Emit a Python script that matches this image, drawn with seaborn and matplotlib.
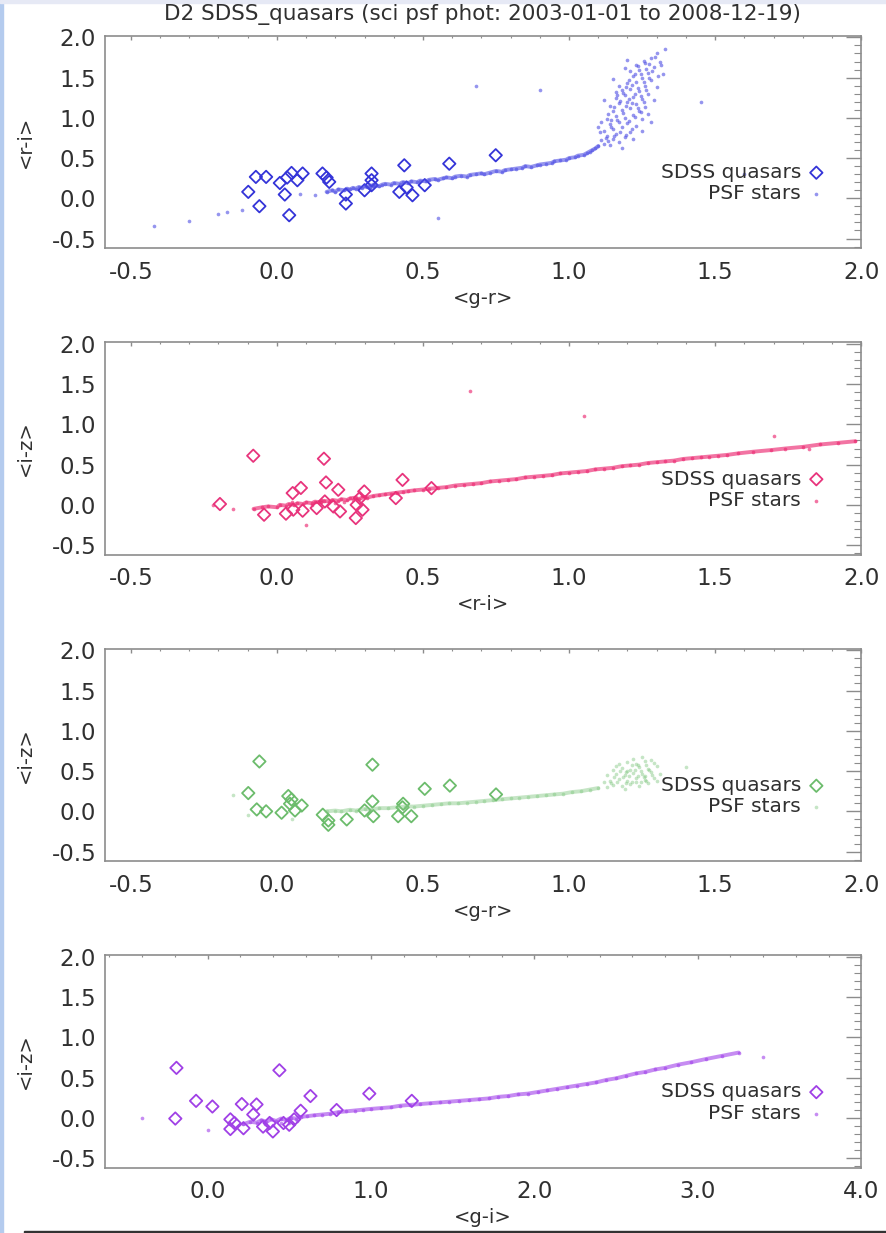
import pandas as pd
import seaborn as sns
import matplotlib.pyplot as plt
from matplotlib.ticker import MultipleLocator, FormatStrFormatter
from matplotlib.patches import Rectangle

# ---- data ----
title = 'D2 SDSS_quasars (sci psf phot: 2003-01-01 to 2008-12-19)'

# panel 1: <g-r> vs <r-i>
q1_x = [-0.098, -0.072, -0.037, -0.06, 0.010, 0.027, 0.042, 0.035, 0.05, 0.07, 0.088, 0.156, 0.17, 0.179,
        0.236, 0.236, 0.30, 0.324, 0.324, 0.324, 0.436, 0.419, 0.444, 0.464, 0.506, 0.59, 0.749]
q1_y = [0.08, 0.266, 0.266, -0.098, 0.19, 0.047, -0.21, 0.258, 0.315, 0.225, 0.308, 0.308, 0.258, 0.204,
        0.047, -0.065, 0.10, 0.308, 0.225, 0.163, 0.41, 0.08, 0.134, 0.038, 0.163, 0.43, 0.535]
s1_line_x = [0.17, 0.19, 0.20, 0.21, 0.23, 0.24, 0.25, 0.26, 0.27, 0.28, 0.29, 0.30, 0.31, 0.32, 0.32, 0.33,
             0.33, 0.34, 0.35, 0.36, 0.37, 0.39, 0.40, 0.42, 0.43, 0.45, 0.46, 0.48, 0.49, 0.51, 0.52, 0.54,
             0.55, 0.57, 0.58, 0.60, 0.61, 0.63, 0.65, 0.66, 0.68, 0.70, 0.71, 0.73, 0.75, 0.77, 0.78, 0.80,
             0.82, 0.84, 0.85, 0.87, 0.89, 0.90, 0.92, 0.94, 0.95, 0.97, 0.99, 1.00, 1.02, 1.03, 1.05, 1.06,
             1.07, 1.08, 1.09, 1.10]
s1_line_y = [0.08, 0.10, 0.08, 0.11, 0.10, 0.12, 0.11, 0.13, 0.12, 0.14, 0.13, 0.15, 0.14, 0.16, 0.13, 0.17,
             0.15, 0.16, 0.15, 0.17, 0.18, 0.17, 0.19, 0.18, 0.20, 0.19, 0.21, 0.20, 0.22, 0.21, 0.23, 0.24,
             0.23, 0.25, 0.26, 0.25, 0.27, 0.28, 0.27, 0.29, 0.30, 0.31, 0.30, 0.32, 0.34, 0.33, 0.35, 0.36,
             0.37, 0.38, 0.40, 0.39, 0.41, 0.42, 0.43, 0.44, 0.46, 0.47, 0.48, 0.50, 0.51, 0.53, 0.54, 0.56,
             0.58, 0.60, 0.62, 0.65]
s1_blob_x = [1.12, 1.14, 1.11, 1.15, 1.17, 1.13, 1.16, 1.19, 1.12, 1.15, 1.18, 1.21, 1.14, 1.17, 1.20, 1.23,
             1.13, 1.16, 1.19, 1.22, 1.25, 1.15, 1.18, 1.21, 1.24, 1.14, 1.17, 1.20, 1.23, 1.26, 1.16, 1.19,
             1.22, 1.25, 1.18, 1.21, 1.24, 1.27, 1.17, 1.20, 1.23, 1.26, 1.22, 1.25, 1.28, 1.21, 1.24, 1.27,
             1.23, 1.26, 1.29, 1.28, 1.31, 1.30, 1.33, 1.11, 1.12, 1.27, 1.29, 1.30, 1.15, 1.19, 1.18, 1.22,
             1.25, 1.28, 1.32, 1.20, 1.10, 1.16,
             1.135, 1.155, 1.175, 1.195, 1.215, 1.145, 1.165, 1.185, 1.205, 1.225, 1.245, 1.155, 1.175,
             1.195, 1.215, 1.235, 1.255, 1.165, 1.185, 1.205, 1.225, 1.245, 1.265, 1.195, 1.215, 1.235,
             1.255, 1.275, 1.205, 1.225, 1.245, 1.265, 1.285, 1.235, 1.255, 1.275, 1.295, 1.125, 1.145,
             1.105, 1.135, 1.305, 1.315,
             -0.42, -0.30, -0.20, -0.17, -0.12, 0.08, 0.13, 0.90, 0.68, 1.45, 0.55, 1.60]
s1_blob_y = [0.68, 0.66, 0.72, 0.74, 0.70, 0.78, 0.80, 0.76, 0.84, 0.86, 0.88, 0.82, 0.92, 0.95, 0.93, 0.90,
             0.99, 1.02, 1.00, 1.04, 0.98, 1.08, 1.10, 1.12, 1.09, 1.15, 1.18, 1.20, 1.17, 1.14, 1.25, 1.28,
             1.26, 1.23, 1.34, 1.36, 1.33, 1.30, 1.40, 1.43, 1.45, 1.40, 1.52, 1.50, 1.47, 1.58, 1.60, 1.56,
             1.66, 1.68, 1.63, 1.74, 1.70, 1.80, 1.86, 0.95, 1.22, 1.05, 1.22, 1.38, 1.48, 1.62, 0.62, 0.74,
             0.84, 0.95, 1.55, 1.72, 0.88, 1.32,
             0.71, 0.77, 0.83, 0.79, 0.86, 0.89, 0.97, 1.06, 0.96, 1.01, 1.07, 1.13, 1.21, 1.15, 1.19,
             1.12, 1.20, 1.29, 1.31, 1.24, 1.30, 1.27, 1.35, 1.38, 1.41, 1.37, 1.44, 1.50, 1.47, 1.55, 1.54,
             1.61, 1.58, 1.64, 1.71, 1.67, 1.76, 0.75, 0.97, 0.82, 1.05, 1.52, 1.66,
             -0.35, -0.28, -0.20, -0.17, -0.14, 0.05, 0.04, 1.35, 1.40, 1.20, -0.25, 0.30]

# panel 2: <r-i> vs <i-z>
q2_x = [-0.081, 0.161, -0.195, -0.044, 0.031, 0.054, 0.082, 0.056, 0.088, 0.136, 0.168, 0.164, 0.21, 0.216,
        0.193, 0.273, 0.27, 0.293, 0.299, 0.284, 0.407, 0.43, 0.529]
q2_y = [0.61, 0.573, 0.01, -0.123, -0.11, 0.146, 0.21, -0.06, -0.073, -0.04, 0.278, 0.042, 0.187, -0.082,
        -0.02, 0.0, -0.164, -0.061, 0.166, 0.084, 0.084, 0.31, 0.208]
s2_line_x = [-0.08, -0.05, -0.03, 0.00, 0.01, 0.03, 0.04, 0.06, 0.07, 0.09, 0.10, 0.12, 0.13, 0.15, 0.16,
             0.18, 0.19, 0.21, 0.22, 0.24, 0.25, 0.27, 0.28, 0.30, 0.31, 0.33, 0.35, 0.37, 0.39, 0.41, 0.43,
             0.45, 0.47, 0.50, 0.52, 0.55, 0.58, 0.61, 0.64, 0.67, 0.70, 0.73, 0.76, 0.79, 0.82, 0.85, 0.88,
             0.91, 0.94, 0.97, 1.00, 1.03, 1.06, 1.09, 1.12, 1.15, 1.18, 1.21, 1.24, 1.27, 1.30, 1.33, 1.36,
             1.39, 1.42, 1.45, 1.48, 1.51, 1.54, 1.58, 1.63, 1.69, 1.74, 1.80, 1.86, 1.92, 1.98]
s2_line_y = [-0.05, -0.03, -0.02, -0.03, 0.00, -0.01, 0.01, 0.00, 0.02, 0.01, 0.03, 0.02, 0.04, 0.03, 0.05,
             0.04, 0.06, 0.05, 0.07, 0.06, 0.08, 0.09, 0.07, 0.10, 0.09, 0.11, 0.12, 0.13, 0.14, 0.15, 0.16,
             0.17, 0.18, 0.19, 0.20, 0.21, 0.22, 0.24, 0.25, 0.26, 0.27, 0.29, 0.30, 0.31, 0.32, 0.34, 0.35,
             0.36, 0.37, 0.39, 0.40, 0.41, 0.42, 0.44, 0.45, 0.46, 0.48, 0.49, 0.50, 0.52, 0.53, 0.54, 0.55,
             0.57, 0.58, 0.59, 0.60, 0.61, 0.62, 0.64, 0.66, 0.68, 0.70, 0.72, 0.75, 0.77, 0.79]
s2_other_x = [-0.22, -0.15, 0.66, 1.05, 0.10, 1.70, 1.82, 0.12, 0.20, 0.26, 0.05, 0.15, 0.23, 0.29]
s2_other_y = [0.00, -0.05, 1.42, 1.10, -0.25, 0.85, 0.70, 0.00, 0.02, 0.06, 0.03, 0.06, 0.04, 0.11]

# panel 3: <g-r> vs <i-z>
q3_x = [-0.06, -0.098, -0.069, -0.037, 0.016, 0.039, 0.05, 0.045, 0.062, 0.085, 0.157, 0.176, 0.176, 0.239,
        0.30, 0.327, 0.327, 0.33, 0.415, 0.432, 0.43, 0.46, 0.506, 0.592, 0.75]
q3_y = [0.62, 0.227, 0.024, 0.0, -0.017, 0.19, 0.147, 0.094, 0.011, 0.073, -0.042, -0.113, -0.167, -0.10,
        0.011, 0.58, 0.123, -0.06, -0.06, 0.094, 0.05, -0.06, 0.28, 0.32, 0.21]
s3_line_x = [0.17, 0.20, 0.22, 0.25, 0.27, 0.30, 0.32, 0.35, 0.38, 0.41, 0.44, 0.47, 0.50, 0.53, 0.56, 0.59,
             0.62, 0.65, 0.68, 0.71, 0.74, 0.77, 0.80, 0.83, 0.86, 0.89, 0.92, 0.95, 0.98, 1.01, 1.04, 1.07,
             1.10]
s3_line_y = [0.00, 0.01, 0.00, 0.02, 0.01, 0.03, 0.02, 0.04, 0.04, 0.05, 0.06, 0.06, 0.07, 0.08, 0.09, 0.10,
             0.10, 0.11, 0.12, 0.13, 0.14, 0.15, 0.16, 0.17, 0.18, 0.19, 0.20, 0.21, 0.22, 0.24, 0.25, 0.27,
             0.29]
s3_blob_x = [1.13, 1.15, 1.18, 1.21, 1.24, 1.27, 1.14, 1.17, 1.20, 1.23, 1.26, 1.29, 1.13, 1.16, 1.19, 1.22,
             1.25, 1.28, 1.31, 1.15, 1.18, 1.21, 1.24, 1.27, 1.30, 1.17, 1.20, 1.23, 1.26, 1.29, 1.22, 1.25,
             1.12, 1.19, 1.30, 1.16, 1.28, 1.20, 1.23, 1.26,
             1.145, 1.165, 1.195, 1.215, 1.245, 1.265, 1.155, 1.185, 1.205, 1.235, 1.255, 1.285, 1.175,
             1.195, 1.225, 1.245, 1.275, 1.215, 1.235, 1.265,
             -0.15, -0.10, 0.05, 1.40]
s3_blob_y = [0.30, 0.33, 0.31, 0.34, 0.32, 0.35, 0.38, 0.40, 0.38, 0.41, 0.39, 0.42, 0.45, 0.47, 0.45, 0.48,
             0.46, 0.49, 0.47, 0.52, 0.54, 0.52, 0.55, 0.53, 0.56, 0.59, 0.61, 0.59, 0.62, 0.60, 0.65, 0.67,
             0.36, 0.28, 0.38, 0.56, 0.64, 0.50, 0.36, 0.44,
             0.35, 0.36, 0.35, 0.37, 0.36, 0.38, 0.43, 0.43, 0.44, 0.44, 0.43, 0.45, 0.50, 0.49, 0.51,
             0.50, 0.52, 0.57, 0.58, 0.57,
             0.20, -0.05, -0.10, 0.55]

# panel 4: <g-i> vs <i-z>
q4_x = [-0.19, -0.197, -0.07, 0.03, 0.14, 0.14, 0.165, 0.21, 0.22, 0.28, 0.30, 0.34, 0.38, 0.40, 0.44, 0.465,
        0.50, 0.53, 0.57, 0.63, 0.79, 0.99, 1.25]
q4_y = [0.62, -0.01, 0.21, 0.14, -0.02, -0.14, -0.065, 0.17, -0.13, 0.04, 0.165, -0.11, -0.065, -0.17, 0.59,
        -0.065, -0.087, -0.02, 0.087, 0.27, 0.096, 0.30, 0.21]
s4_line_x = [0.22, 0.26, 0.30, 0.33, 0.36, 0.39, 0.42, 0.45, 0.48, 0.51, 0.54, 0.57, 0.61, 0.65, 0.70, 0.75,
             0.80, 0.85, 0.90, 0.95, 1.00, 1.06, 1.12, 1.18, 1.24, 1.30, 1.36, 1.42, 1.48, 1.54, 1.60, 1.66,
             1.72, 1.78, 1.84, 1.90, 1.96, 2.02, 2.08, 2.14, 2.20, 2.26, 2.32, 2.38, 2.44, 2.50, 2.56, 2.62,
             2.68, 2.74, 2.80, 2.88, 2.96, 3.05, 3.15, 3.25]
s4_line_y = [-0.08, -0.05, -0.06, -0.03, -0.05, -0.02, -0.04, -0.01, -0.03, 0.00, -0.01, 0.01, 0.02, 0.03,
             0.04, 0.05, 0.07, 0.08, 0.09, 0.10, 0.11, 0.12, 0.13, 0.15, 0.16, 0.17, 0.18, 0.19, 0.20, 0.21,
             0.22, 0.23, 0.24, 0.26, 0.27, 0.29, 0.30, 0.32, 0.34, 0.36, 0.38, 0.40, 0.42, 0.44, 0.47, 0.49,
             0.52, 0.55, 0.57, 0.60, 0.62, 0.66, 0.69, 0.73, 0.77, 0.81]
s4_other_x = [-0.40, 0.00, 3.40, 0.35, 0.45, 0.55, 0.28, 0.40, 0.50]
s4_other_y = [0.00, -0.15, 0.75, -0.08, -0.06, -0.04, -0.02, -0.09, -0.06]

panels = [
    dict(q=(q1_x, q1_y), line=(s1_line_x, s1_line_y), other=(s1_blob_x, s1_blob_y),
         xl='<g-r>', yl='<r-i>', xlim=(-0.59, 2.0), xmaj=0.5, xmin=0.1,
         qc='#3434d8', sc='#4e4ee4', alpha=0.6),
    dict(q=(q2_x, q2_y), line=(s2_line_x, s2_line_y), other=(s2_other_x, s2_other_y),
         xl='<r-i>', yl='<i-z>', xlim=(-0.59, 2.0), xmaj=0.5, xmin=0.1,
         qc='#e8347c', sc='#ec2a72', alpha=0.65),
    dict(q=(q3_x, q3_y), line=(s3_line_x, s3_line_y), other=(s3_blob_x, s3_blob_y),
         xl='<g-r>', yl='<i-z>', xlim=(-0.59, 2.0), xmaj=0.5, xmin=0.1,
         qc='#6cbc6c', sc='#80c680', alpha=0.45),
    dict(q=(q4_x, q4_y), line=(s4_line_x, s4_line_y), other=(s4_other_x, s4_other_y),
         xl='<g-i>', yl='<i-z>', xlim=(-0.63, 4.0), xmaj=1.0, xmin=0.2,
         qc='#a040e6', sc='#a040ea', alpha=0.6),
]

sns.set_theme(style='white')
plt.rcParams['font.family'] = ['DejaVu Sans']
plt.rcParams['axes.unicode_minus'] = False

fig = plt.figure(figsize=(8.86, 12.33), dpi=100)
bottoms = [0.7987, 0.5501, 0.3015, 0.0530]
txt = '#303030'

for p, b in zip(panels, bottoms):
    ax = fig.add_axes([0.118, b, 0.854, 0.1723])
    lx, ly = p['line']
    sns.lineplot(x=lx, y=ly, ax=ax, color=p['sc'], lw=2.8, alpha=p['alpha'],
                 estimator=None, sort=False, legend=False)
    sns.scatterplot(x=lx + p['other'][0], y=ly + p['other'][1], ax=ax, s=7,
                    color=p['sc'], alpha=p['alpha'], linewidth=0, label='PSF stars')
    sns.scatterplot(x=p['q'][0], y=p['q'][1], ax=ax, marker='D', s=40,
                    facecolor='none', edgecolor=p['qc'], linewidth=1.3,
                    label='SDSS quasars')

    ax.set_xlim(*p['xlim'])
    ax.set_ylim(-0.62, 2.02)
    ax.xaxis.set_major_locator(MultipleLocator(p['xmaj']))
    ax.xaxis.set_minor_locator(MultipleLocator(p['xmin']))
    ax.yaxis.set_major_locator(MultipleLocator(0.5))
    ax.yaxis.set_minor_locator(MultipleLocator(0.1))
    ax.xaxis.set_major_formatter(FormatStrFormatter('%.1f'))
    ax.yaxis.set_major_formatter(FormatStrFormatter('%.1f'))
    ax.tick_params(which='both', direction='in', top=True, right=True,
                   color='#8c8c8c', labelcolor=txt, labelsize=16.5)
    ax.tick_params(axis='y', which='major', length=10.8, width=1, pad=6)
    ax.tick_params(axis='y', which='minor', length=5.4, width=0.8)
    ax.tick_params(axis='x', which='major', length=3.2, width=1, pad=9)
    ax.tick_params(axis='x', which='minor', length=1.6, width=0.8)
    for sp in ax.spines.values():
        sp.set_color('#8c8c8c')
        sp.set_linewidth(1.2)

    ax.set_xlabel(p['xl'], fontsize=14, color=txt, va='center')
    ax.set_ylabel(p['yl'], fontsize=14, color=txt, va='center')
    ax.xaxis.set_label_coords(0.5, -0.235)
    ax.yaxis.set_label_coords(-0.105, 0.5)

    h, l = ax.get_legend_handles_labels()
    ax.legend([h[1], h[0]], [l[1], l[0]], loc='center right',
              bbox_to_anchor=(0.962, 0.306), borderaxespad=0, frameon=False,
              markerfirst=False, fontsize=14.5, labelcolor=txt,
              handlelength=0.8, handletextpad=0.35, labelspacing=0.12)

fig.text(0.545, 0.988, title, ha='center', va='center', fontsize=15.5, color=txt)

# thin page borders seen around the reference image
fig.patches.append(Rectangle((0, 0), 3 / 886, 1, transform=fig.transFigure,
                             color='#b4cbee', zorder=-1))
fig.patches.append(Rectangle((0, 1 - 3 / 1233), 1, 3 / 1233, transform=fig.transFigure,
                             color='#e6e9f5', zorder=-1))
fig.patches.append(Rectangle((24 / 886, 0), 1, 2 / 1233, transform=fig.transFigure,
                             color='#333333', zorder=-1))

fig.savefig('out.png', dpi=100)
